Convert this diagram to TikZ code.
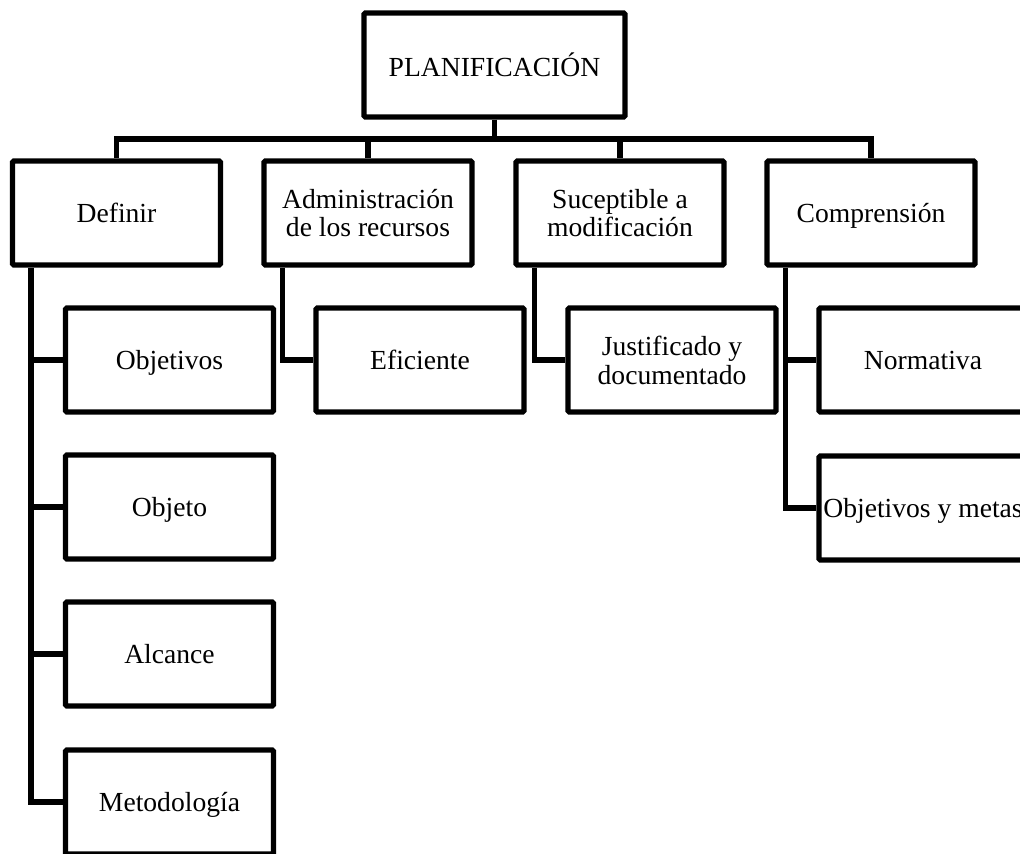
\documentclass[tikz,border=0pt]{standalone}
\usepackage{fontspec}
\setmainfont{Liberation Serif}
\usepackage{tikz}

\tikzset{
  box/.style  = {draw, line width=4pt, rounded corners=1pt, align=center,
                 minimum width=156pt, minimum height=78pt, inner sep=0pt,
                 text depth=0pt, font=\fontsize{20.7}{21.5}\selectfont},
  link/.style = {line width=4pt}
}

\begin{document}
\begin{tikzpicture}[x=0.75pt, y=-0.75pt]

  \useasboundingbox (0,0) rectangle (1020,853) ;
  \clip             (0,0) rectangle (1020,853) ;

  \node[box, minimum width=195.75pt] (plan) at (494.5, 65) {PLANIFICACIÓN} ;

  \node[box] (def)  at (116.5,213) {Definir} ;
  \node[box] (adm)  at (368,  213) {Administración\\de los recursos} ;
  \node[box] (sus)  at (620,  213) {Suceptible a\\modificación} ;
  \node[box] (comp) at (871,  213) {Comprensión} ;

  \node[box] (obj)  at (169.5,360) {Objetivos} ;
  \node[box] (objt) at (169.5,507) {Objeto} ;
  \node[box] (alc)  at (169.5,654) {Alcance} ;
  \node[box] (met)  at (169.5,802) {Metodología} ;

  \node[box] (efi)  at (420,  360) {Eficiente} ;
  \node[box] (just) at (672,  360) {Justificado y\\documentado} ;
  \node[box] (norm) at (923,  360) {Normativa} ;
  \node[box] (meta) at (923,  508) {Objetivos y metas} ;

  % bus under the title
  \coordinate (bus) at (0,139) ;
  \draw[link] (plan.south) -- (plan.south |- bus) ;
  \draw[link] (def.north)  -- (def.north |- bus) -| (comp.north) ;
  \draw[link] (adm.north)  -- (adm.north |- bus) ;
  \draw[link] (sus.north)  -- (sus.north |- bus) ;

  % trunks to the lower boxes
  \draw[link] (def.south west)  ++(21,0) coordinate (tdef)  |- (met.west) ;
  \draw[link] (tdef |- obj.west)  -- (obj.west) ;
  \draw[link] (tdef |- objt.west) -- (objt.west) ;
  \draw[link] (tdef |- alc.west)  -- (alc.west) ;

  \draw[link] (adm.south west)  ++(21,0) |- (efi.west) ;
  \draw[link] (sus.south west)  ++(21,0) |- (just.west) ;

  \draw[link] (comp.south west) ++(21,0) coordinate (tcomp) |- (meta.west) ;
  \draw[link] (tcomp |- norm.west) -- (norm.west) ;

\end{tikzpicture}
\end{document}
